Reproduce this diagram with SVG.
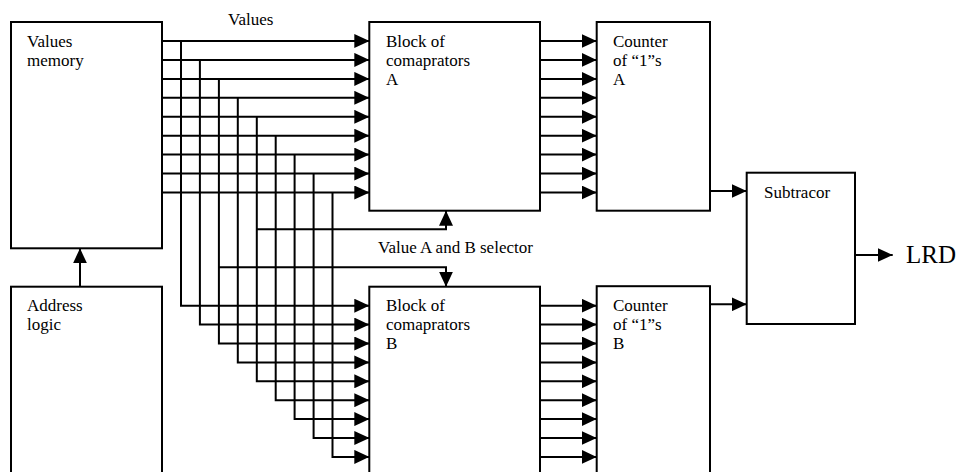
<svg xmlns="http://www.w3.org/2000/svg" width="961" height="472" viewBox="0 0 961 472">
<style>
.box{fill:#fff;stroke:#000;stroke-width:2}
.ln{fill:none;stroke:#000;stroke-width:2}
.ar{marker-end:url(#ah)}
text{font-family:"Liberation Serif","Times New Roman",serif;font-size:17px;fill:#000}
.big{font-size:25px}
</style>
<defs>
<marker id="ah" markerUnits="userSpaceOnUse" markerWidth="15" markerHeight="14" refX="15" refY="7" orient="auto">
<path d="M0,0 L15,7 L0,14 z" fill="#000"/>
</marker>
</defs>
<rect width="961" height="472" fill="#fff"/>
<g id="connectors">
<!-- memory to block A -->
<path class="ln ar" d="M162,41 H369.3"/>
<path class="ln ar" d="M162,59.9 H369.3"/>
<path class="ln ar" d="M162,78.9 H369.3"/>
<path class="ln ar" d="M162,97.8 H369.3"/>
<path class="ln ar" d="M162,116.8 H369.3"/>
<path class="ln ar" d="M162,135.7 H369.3"/>
<path class="ln ar" d="M162,154.6 H369.3"/>
<path class="ln ar" d="M162,173.6 H369.3"/>
<path class="ln ar" d="M162,192.5 H369.3"/>
<!-- taps down to block B -->
<path class="ln ar" d="M181,41 V305.7 H369.3"/>
<path class="ln ar" d="M199.9,59.9 V324.6 H369.3"/>
<path class="ln ar" d="M218.9,78.9 V343.5 H369.3"/>
<path class="ln ar" d="M237.8,97.8 V362.4 H369.3"/>
<path class="ln ar" d="M256.8,116.8 V381.3 H369.3"/>
<path class="ln ar" d="M275.7,135.7 V400.2 H369.3"/>
<path class="ln ar" d="M294.6,154.6 V419.1 H369.3"/>
<path class="ln ar" d="M313.6,173.6 V438 H369.3"/>
<path class="ln ar" d="M332.5,192.5 V456.9 H369.3"/>
<!-- selectors -->
<path class="ln ar" d="M256.8,229.3 H446 V210.7"/>
<path class="ln ar" d="M218.9,267.3 H446 V286.7"/>
<!-- block A to counter A -->
<path class="ln ar" d="M540,41 H596.7"/>
<path class="ln ar" d="M540,59.9 H596.7"/>
<path class="ln ar" d="M540,78.9 H596.7"/>
<path class="ln ar" d="M540,97.8 H596.7"/>
<path class="ln ar" d="M540,116.8 H596.7"/>
<path class="ln ar" d="M540,135.7 H596.7"/>
<path class="ln ar" d="M540,154.6 H596.7"/>
<path class="ln ar" d="M540,173.6 H596.7"/>
<path class="ln ar" d="M540,192.5 H596.7"/>
<!-- block B to counter B -->
<path class="ln ar" d="M540,305.7 H596.7"/>
<path class="ln ar" d="M540,324.6 H596.7"/>
<path class="ln ar" d="M540,343.5 H596.7"/>
<path class="ln ar" d="M540,362.4 H596.7"/>
<path class="ln ar" d="M540,381.3 H596.7"/>
<path class="ln ar" d="M540,400.2 H596.7"/>
<path class="ln ar" d="M540,419.1 H596.7"/>
<path class="ln ar" d="M540,438 H596.7"/>
<path class="ln ar" d="M540,456.9 H596.7"/>
<!-- counters to subtractor -->
<path class="ln ar" d="M710,191 H746.7"/>
<path class="ln ar" d="M710,304.3 H746.7"/>
<!-- subtractor output -->
<path class="ln ar" d="M855,255 H892.7"/>
<!-- address to memory -->
<path class="ln ar" d="M80,286.7 V248.3"/>
<text x="228" y="25">Values</text>
<text x="378" y="253">Value A and B selector</text>
</g>
<g id="values-memory">
<rect class="box" x="11" y="22" width="151" height="226.3"/>
<text x="27" y="47">Values</text>
<text x="27" y="66">memory</text>
</g>
<g id="address-logic">
<rect class="box" x="11" y="286.7" width="151" height="200"/>
<text x="27" y="311">Address</text>
<text x="27" y="330">logic</text>
</g>
<g id="block-a">
<rect class="box" x="369.3" y="22" width="170.7" height="188.7"/>
<text x="386" y="47">Block of</text>
<text x="386" y="66">comaprators</text>
<text x="386" y="85">A</text>
</g>
<g id="block-b">
<rect class="box" x="369.3" y="286.7" width="170.7" height="200"/>
<text x="386" y="311">Block of</text>
<text x="386" y="330">comaprators</text>
<text x="386" y="349">B</text>
</g>
<g id="counter-a">
<rect class="box" x="596.7" y="22" width="113.3" height="188.7"/>
<text x="613" y="47">Counter</text>
<text x="613" y="66">of “1”s</text>
<text x="613" y="85">A</text>
</g>
<g id="counter-b">
<rect class="box" x="596.7" y="286.2" width="113.3" height="200"/>
<text x="613" y="311">Counter</text>
<text x="613" y="330">of “1”s</text>
<text x="613" y="349">B</text>
</g>
<g id="subtractor">
<rect class="box" x="746.7" y="172.7" width="108.3" height="151.3"/>
<text x="764" y="198">Subtracor</text>
</g>
<g id="lrd">
<text class="big" x="906" y="263">LRD</text>
</g>
</svg>
